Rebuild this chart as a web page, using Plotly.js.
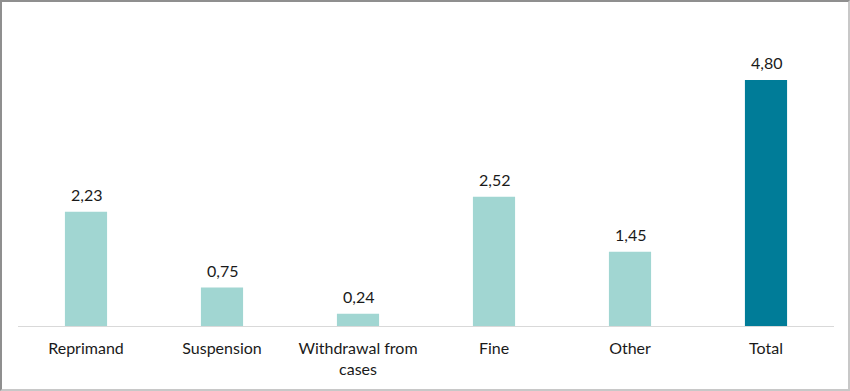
<!DOCTYPE html>
<html>
<head>
<meta charset="utf-8">
<script src="https://cdn.plot.ly/plotly-3.0.1.min.js"></script>
<style>
  html, body { margin: 0; padding: 0; background: #fff; }
  #wrap { position: relative; width: 850px; height: 391px; }
  #chart { width: 850px; height: 391px; }
  #frame { position: absolute; left: 0; top: 0; width: 850px; height: 391px; box-sizing: border-box;
           border-left: 2px solid #8f8f8f; border-top: 2px solid #8f8f8f;
           border-right: 2px solid #c8c8c8; border-bottom: 2px solid #c8c8c8; pointer-events: none; }
</style>
</head>
<body>
<div id="wrap">
  <div id="chart"></div>
  <div id="frame"></div>
</div>
<script>
const categories = ["Reprimand", "Suspension", "Withdrawal from<br>cases", "Fine", "Other", "Total"];
const values = [2.23, 0.75, 0.24, 2.52, 1.45, 4.80];
const barColors = ["#a1d6d2", "#a1d6d2", "#a1d6d2", "#a1d6d2", "#a1d6d2", "#007c98"];

const FONT = "Lato, 'Open Sans', sans-serif";

const trace = {
  type: "bar",
  x: categories,
  y: values,
  marker: { color: barColors, line: { width: 0 } },
  hoverinfo: "none"
};

const annotations = categories.map((c, i) => ({
  x: c,
  y: values[i],
  xref: "x",
  yref: "y",
  text: values[i].toFixed(2).replace(".", ","),
  showarrow: false,
  yanchor: "bottom",
  yshift: 6,
  font: { family: FONT, size: 16, color: "#1a1a1a" }
}));

const layout = {
  width: 850,
  height: 391,
  margin: { l: 18, r: 16, t: 20, b: 65 },
  paper_bgcolor: "#ffffff",
  plot_bgcolor: "#ffffff",
  showlegend: false,
  bargap: 0.69,
  font: { family: FONT, size: 16, color: "#1a1a1a" },
  annotations: annotations,
  xaxis: {
    type: "category",
    showline: true,
    linecolor: "#d9d9d9",
    linewidth: 1,
    ticks: "",
    showgrid: false,
    ticklabelstandoff: 8,
    tickfont: { family: FONT, size: 16, color: "#1a1a1a" },
    automargin: false
  },
  yaxis: {
    range: [0, 5.97],
    visible: false,
    showgrid: false,
    zeroline: false
  }
};

Plotly.newPlot("chart", [trace], layout, { staticPlot: true, displayModeBar: false });
</script>
</body>
</html>
